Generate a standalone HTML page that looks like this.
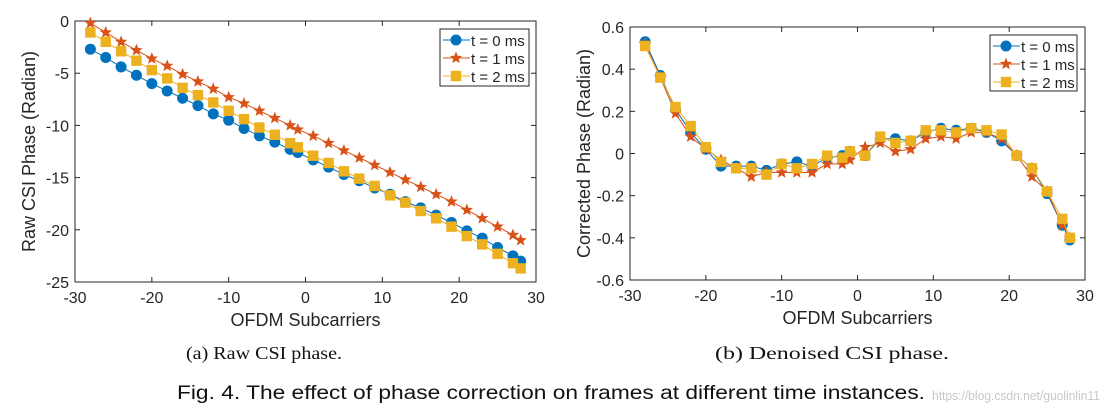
<!DOCTYPE html>
<html><head><meta charset="utf-8">
<style>
html,body{margin:0;padding:0;background:#fff;}
svg{display:block;}
text{font-family:"Liberation Sans",sans-serif;fill:#262626;}
</style></head>
<body>
<svg id="fig" width="1113" height="415" viewBox="0 0 1113 415" xmlns="http://www.w3.org/2000/svg">
<g id="chartA"></g>
<g id="chartB"></g>
<text x="186" y="359" style="font-family:'Liberation Serif',serif;font-size:18px;fill:#111" textLength="156" lengthAdjust="spacingAndGlyphs">(a) Raw CSI phase.</text>
<text x="715" y="359" style="font-family:'Liberation Serif',serif;font-size:18px;fill:#111" textLength="234" lengthAdjust="spacingAndGlyphs">(b) Denoised CSI phase.</text>
<text x="177" y="399" style="font-size:19px;fill:#111" textLength="748" lengthAdjust="spacingAndGlyphs">Fig. 4.  The effect of phase correction on frames at different time instances.</text>
<text x="932" y="400" style="font-size:13px;fill:#c8c8c8" textLength="168" lengthAdjust="spacingAndGlyphs">https://blog.csdn.net/guolinlin11</text>
</svg>
<script>
const subcarriers=[-28,-26,-24,-22,-20,-18,-16,-14,-12,-10,-8,-6,-4,-2,-1,1,3,5,7,9,11,13,15,17,19,21,23,25,27,28];
const rawT0=[-2.7,-3.5,-4.4,-5.2,-6.0,-6.7,-7.4,-8.1,-8.9,-9.5,-10.3,-11.0,-11.6,-12.3,-12.6,-13.3,-14.0,-14.7,-15.3,-16.0,-16.6,-17.3,-17.9,-18.6,-19.3,-20.1,-20.8,-21.7,-22.5,-23.0];
const rawT1=[-0.2,-1.1,-2.0,-2.8,-3.6,-4.3,-5.1,-5.8,-6.5,-7.3,-7.9,-8.6,-9.3,-10.0,-10.4,-11.0,-11.7,-12.4,-13.1,-13.8,-14.5,-15.2,-15.9,-16.6,-17.3,-18.1,-18.9,-19.7,-20.5,-21.0];
const rawT2=[-1.1,-2.0,-2.9,-3.8,-4.7,-5.5,-6.4,-7.1,-7.8,-8.6,-9.4,-10.2,-10.9,-11.7,-12.1,-12.9,-13.6,-14.4,-15.1,-15.8,-16.7,-17.4,-18.2,-18.9,-19.7,-20.6,-21.4,-22.3,-23.2,-23.7];
const corT0=[0.53,0.37,0.21,0.10,0.02,-0.06,-0.06,-0.06,-0.08,-0.05,-0.04,-0.06,-0.02,-0.01,0.01,-0.01,0.07,0.07,0.06,0.10,0.12,0.11,0.12,0.10,0.06,-0.01,-0.07,-0.19,-0.34,-0.41];
const corT1=[0.52,0.36,0.19,0.08,0.02,-0.03,-0.07,-0.11,-0.09,-0.09,-0.09,-0.09,-0.05,-0.05,-0.03,0.03,0.05,0.01,0.02,0.07,0.08,0.07,0.10,0.10,0.07,-0.01,-0.11,-0.18,-0.34,-0.40];
const corT2=[0.51,0.36,0.22,0.13,0.03,-0.04,-0.07,-0.07,-0.10,-0.05,-0.07,-0.05,-0.01,-0.02,0.01,-0.01,0.08,0.05,0.06,0.11,0.11,0.10,0.12,0.11,0.09,-0.01,-0.07,-0.18,-0.31,-0.40];
const xTicks=[-30,-20,-10,0,10,20,30];
const yTicksA=[0,-5,-10,-15,-20,-25];
const yTicksB=[0.6,0.4,0.2,0,-0.2,-0.4,-0.6];
const legendLabels=["t = 0 ms","t = 1 ms","t = 2 ms"];
const colors=["#0072BD","#D95319","#EDB120"];
const NS="http://www.w3.org/2000/svg";
function mk(p,tag,a){const e=document.createElementNS(NS,tag);for(const k in a)e.setAttribute(k,a[k]);p.appendChild(e);return e;}
function marker(g,kind,x,y,c){
  let e;
  if(kind===0){e=mk(g,'circle',{cx:x,cy:y,r:5.5,fill:c});}
  else if(kind===1){let pts=[];for(let i=0;i<10;i++){const r=i%2?2.8:6.5;const a=-Math.PI/2+i*Math.PI/5;pts.push((x+r*Math.cos(a)).toFixed(2)+','+(y+r*Math.sin(a)).toFixed(2));}
    e=mk(g,'polygon',{points:pts.join(' '),fill:c});}
  else {e=mk(g,'rect',{x:x-5.2,y:y-5.2,width:10.4,height:10.4,fill:c});}
  return e;
}
function chart(g,box,ymin,ymax,yTicks,series,ytitle,leg,fmt){
  const [L,R,T,B]=box;
  const sx=v=>L+(v+30)/60*(R-L), sy=v=>B-(v-ymin)/(ymax-ymin)*(B-T);
  mk(g,'rect',{x:L,y:T,width:R-L,height:B-T,fill:'#fff',stroke:'#262626','stroke-width':1});
  xTicks.forEach(v=>{const x=sx(v);
    mk(g,'line',{x1:x,x2:x,y1:B,y2:B-5,stroke:'#262626'});mk(g,'line',{x1:x,x2:x,y1:T,y2:T+5,stroke:'#262626'});
    const t=mk(g,'text',{x:x,y:B+21,'text-anchor':'middle','font-size':16});t.textContent=v;
    
    });
  yTicks.forEach(v=>{const y=sy(v);
    mk(g,'line',{x1:L,x2:L+5,y1:y,y2:y,stroke:'#262626'});mk(g,'line',{x1:R,x2:R-5,y1:y,y2:y,stroke:'#262626'});
    const t=mk(g,'text',{x:L-6,y:y+6,'text-anchor':'end','font-size':16});t.textContent=fmt(v);
    
    });
  const xt=mk(g,'text',{x:(L+R)/2,y:B+44,'text-anchor':'middle','font-size':18});xt.textContent='OFDM Subcarriers';
  
  
  const yt=mk(g,'text',{x:0,y:0,'text-anchor':'middle','font-size':18,transform:`translate(${L-40},${(T+B)/2}) rotate(-90)`});yt.textContent=ytitle;
  
  
  series.forEach((s,k)=>{
    const sg=mk(g,'g',{});
    
    
    mk(sg,'polyline',{points:subcarriers.map((x,i)=>sx(x)+','+sy(s[i])).join(' '),fill:'none',stroke:colors[k],'stroke-width':1});
    subcarriers.forEach((x,i)=>{const m=marker(sg,k,sx(x),sy(s[i]),colors[k]);
      
      });
  });
  const [lx,ly,lw,lh]=leg;
  const lg=mk(g,'g',{});
  
  
  mk(lg,'rect',{x:lx,y:ly,width:lw,height:lh,fill:'#fff',stroke:'#262626'});
  legendLabels.forEach((lab,k)=>{const y=ly+11+k*18;
    mk(lg,'line',{x1:lx+3,x2:lx+30,y1:y,y2:y,stroke:colors[k]});marker(lg,k,lx+16,y,colors[k]);
    const t=mk(lg,'text',{x:lx+31,y:y+6,'font-size':15});t.textContent=lab;
    
    });
}
chart(document.getElementById('chartA'),[75,536,21,282],-25,0,yTicksA,[rawT0,rawT1,rawT2],'Raw CSI Phase (Radian)',[440,29,89,57],v=>v);
chart(document.getElementById('chartB'),[630,1085,27,280],-0.6,0.6,yTicksB,[corT0,corT1,corT2],'Corrected Phase (Radian)',[990,35,87,56],v=>v===0?'0':v.toFixed(1));
</script>
</body></html>
